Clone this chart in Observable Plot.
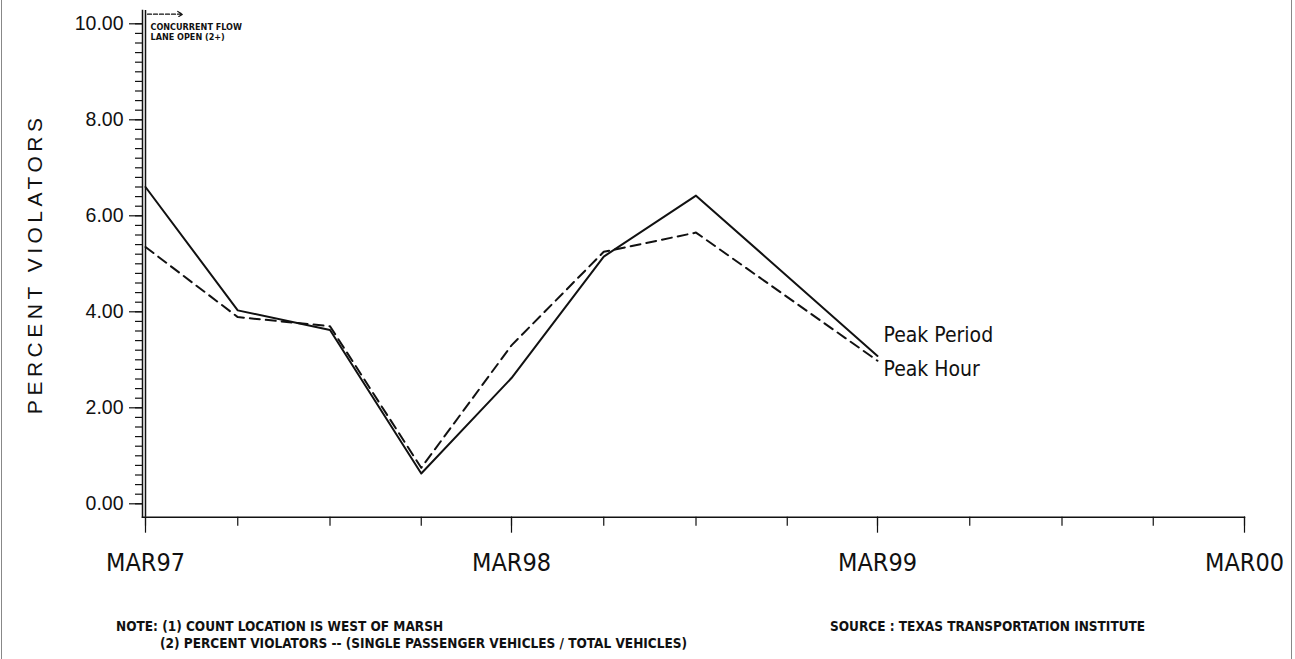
<!DOCTYPE html>
<html>
<head>
<meta charset="utf-8">
<script src="https://cdn.jsdelivr.net/npm/d3@7"></script>
<script src="https://cdn.jsdelivr.net/npm/@observablehq/plot@0.6"></script>
<style>
  body { margin: 0; background: #fff; }
  #page { position: relative; width: 1295px; height: 659px; background: #fff; overflow: hidden; }
  #chart svg { display: block; }
  .border { position: absolute; top: 0; bottom: 0; width: 1px; background: #888; }
  .note { position: absolute; font-family: "Liberation Sans Narrow", "Arial Narrow", "DejaVu Sans Condensed", sans-serif;
          font-weight: bold; font-size: 13.5px; line-height: 17px; color: #111; white-space: nowrap; }
</style>
</head>
<body>
<div id="page">
  <div id="chart"></div>
  <div class="border" style="left:1px"></div>
  <div class="border" style="left:1291px"></div>
  <div class="note" id="note1" style="left:116px; top:618px"></div>
  <div class="note" id="note2" style="left:160px; top:635px"></div>
  <div class="note" id="source" style="left:830px; top:618px"></div>
</div>
<script>
// ---- data ----
const obsDates   = ["1997-03-01","1997-06-01","1997-09-01","1997-12-01","1998-03-01","1998-06-01","1998-09-01","1999-03-01"];
const peakPeriod = [6.60, 4.03, 3.62, 0.63, 2.62, 5.15, 6.42, 3.08];
const peakHour   = [5.35, 3.89, 3.70, 0.75, 3.30, 5.25, 5.65, 2.98];
const seriesNames = ["Peak Period", "Peak Hour"];

const xTickDates  = ["1997-03-01","1998-03-01","1999-03-01","2000-03-01"];
const xTickLabels = ["MAR97","MAR98","MAR99","MAR00"];
const yTickValues = [0, 2, 4, 6, 8, 10];

const annotDate     = ["1997-03-01"];
const annotArrowEnd = ["1997-04-07"];
const annotLevel    = [10.2];
const annotText     = ["CONCURRENT FLOW\nLANE OPEN (2+)"];

const yLabel  = "PERCENT VIOLATORS";
const notes   = ["NOTE: (1) COUNT LOCATION IS WEST OF MARSH",
                 "(2) PERCENT VIOLATORS -- (SINGLE PASSENGER VEHICLES / TOTAL VEHICLES)"];
const source  = "SOURCE : TEXAS TRANSPORTATION INSTITUTE";

// ---- build tables ----
const parse = d3.utcParse("%Y-%m-%d");
const periodRows = obsDates.map((d, i) => ({date: parse(d), value: peakPeriod[i]}));
const hourRows   = obsDates.map((d, i) => ({date: parse(d), value: peakHour[i]}));
const majorTicks = xTickDates.map(parse);
const quarterTicks = d3.utcMonth.range(majorTicks[0], d3.utcDay.offset(majorTicks[majorTicks.length - 1], 1), 3);
const yMinor = d3.range(0, 10.001, 0.2);
const annot = annotDate.map((d, i) => ({date: parse(d), end: parse(annotArrowEnd[i]), level: annotLevel[i], text: annotText[i], top: 10}));
const labelFor = d => xTickLabels[majorTicks.findIndex(t => +t === +d)];

const narrow = '"Liberation Sans Narrow", "Arial Narrow", "DejaVu Sans Condensed", sans-serif';
const sans = '"Liberation Sans", Arial, Helvetica, sans-serif';

const chart = Plot.plot({
  width: 1295,
  height: 600,
  marginLeft: 142,
  marginRight: 51,
  marginTop: 10,
  marginBottom: 83.3,
  x: {type: "utc", domain: [majorTicks[0], majorTicks[majorTicks.length - 1]], range: [145, 1244]},
  y: {domain: [0, 10], range: [503.3, 23.3]},
  style: {background: "white", color: "#111", fontFamily: sans},
  marks: [
    Plot.frame({anchor: "left", stroke: "#111", strokeWidth: 1.5}),
    Plot.frame({anchor: "bottom", stroke: "#111", strokeWidth: 1.5}),
    Plot.ruleX(annot, {x: "date", stroke: "#111", strokeWidth: 1.5}),
    Plot.axisY({ticks: yMinor, tickSize: 7, text: null, label: null, strokeWidth: 1.2}),
    Plot.axisY({ticks: yTickValues, tickSize: 13, tickPadding: 6, strokeWidth: 1.2,
                tickFormat: d => d.toFixed(2), fontSize: 19.5, fontFamily: sans,
                label: null}),
    Plot.axisY({ticks: [], tickSize: 0, label: yLabel, labelAnchor: "center", labelArrow: "none",
                labelOffset: 115, fontSize: 21, fontFamily: sans}),
    Plot.axisX({ticks: quarterTicks, tickSize: 9, text: null, label: null, strokeWidth: 1.2}),
    Plot.axisX({ticks: majorTicks, tickSize: 16, tickPadding: 20, strokeWidth: 1.2,
                tickFormat: labelFor, fontSize: 25, fontFamily: narrow, label: null}),
    Plot.arrow(annot, {x1: "date", x2: "end", y1: "level", y2: "level", bend: 0,
                       insetStart: 2, headLength: 7, stroke: "#111", strokeWidth: 1.2, strokeDasharray: "4,2"}),
    Plot.text(annot, {x: "date", y: "top", text: "text", dx: 5, dy: -1, textAnchor: "start", lineAnchor: "top",
                      fontSize: 9, fontWeight: "bold", fontFamily: narrow, lineHeight: 1.15, fill: "#111"}),
    Plot.line(periodRows, {x: "date", y: "value", stroke: "#111", strokeWidth: 2}),
    Plot.line(hourRows, {x: "date", y: "value", stroke: "#111", strokeWidth: 2, strokeDasharray: "10,6"}),
    Plot.text(periodRows.slice(-1), {x: "date", y: "value", text: () => seriesNames[0], dx: 6, dy: -20.5,
                                     textAnchor: "start", fontSize: 21, fontFamily: narrow, fill: "#111"}),
    Plot.text(hourRows.slice(-1), {x: "date", y: "value", text: () => seriesNames[1], dx: 6, dy: 9,
                                   textAnchor: "start", fontSize: 21, fontFamily: narrow, fill: "#111"})
  ]
});

document.getElementById("chart").appendChild(chart);
d3.select(chart).selectAll("text").filter(function() { return this.textContent === yLabel; })
  .style("letter-spacing", "4.5px");

document.getElementById("note1").textContent = notes[0];
document.getElementById("note2").textContent = notes[1];
document.getElementById("source").textContent = source;
</script>
</body>
</html>
